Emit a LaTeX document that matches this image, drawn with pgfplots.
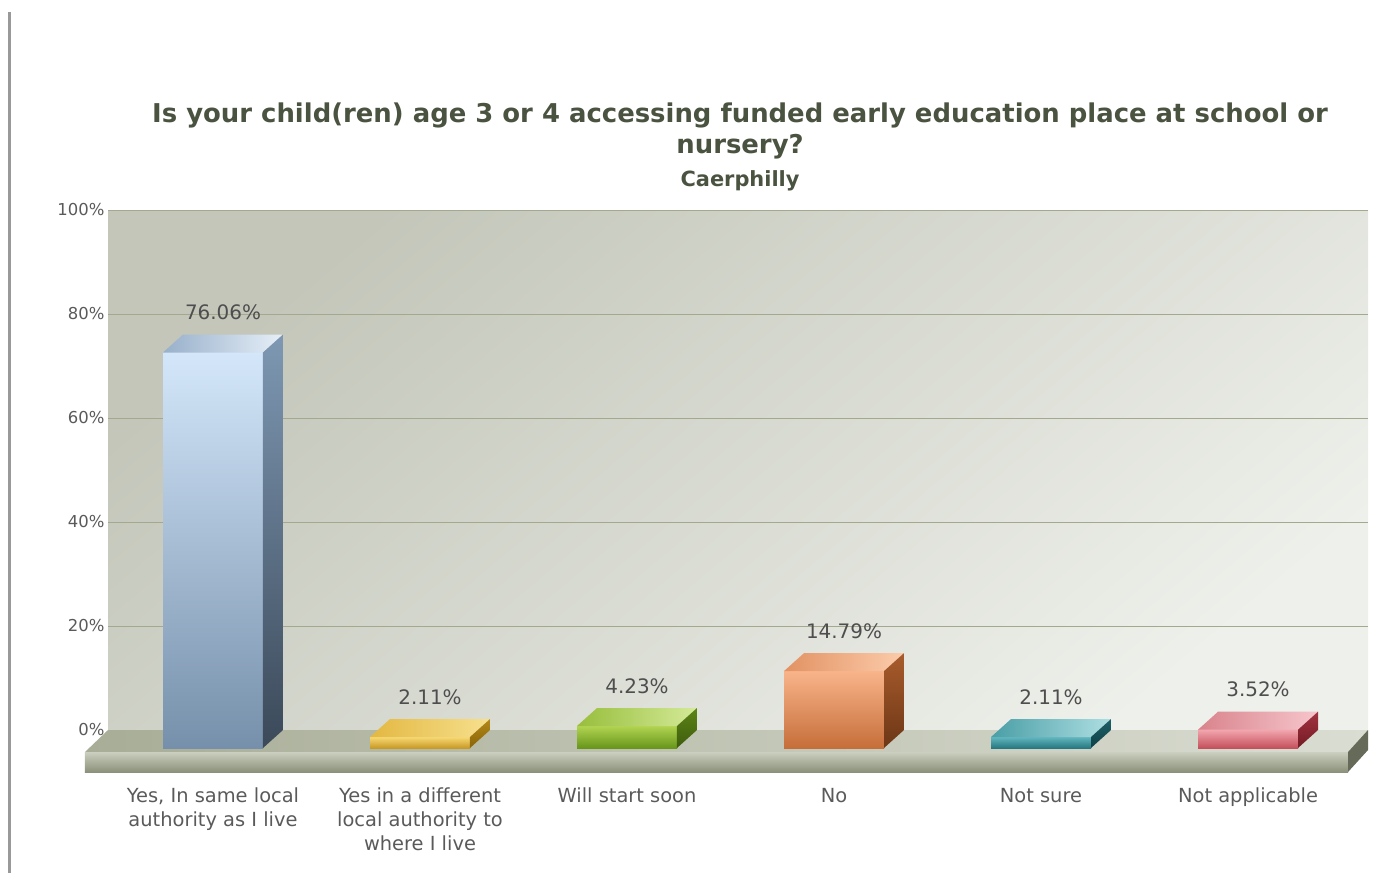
\documentclass[border=0pt]{standalone}
\usepackage{pgfplots}
\pgfplotsset{compat=1.18}
\usepackage{fontspec}
\setmainfont{DejaVu Sans}
\definecolor{wallA}{HTML}{C3C6B9}
\definecolor{wallB}{HTML}{EEF0EB}
\definecolor{gridc}{HTML}{A3A98F}
\definecolor{titlec}{HTML}{4A5240}
\definecolor{tickc}{HTML}{5A5A5A}
\definecolor{labc}{HTML}{5A5A5A}
\definecolor{valc}{HTML}{4E4E4E}
\definecolor{floorTa}{HTML}{A8AD97}
\definecolor{floorTb}{HTML}{DADDD2}
\definecolor{floorFa}{HTML}{CBCFBF}
\definecolor{floorFb}{HTML}{8B917A}
\definecolor{floorS}{HTML}{656B58}
% bar colours
\definecolor{b1a}{HTML}{D4E7FA}\definecolor{b1b}{HTML}{7690AB}\definecolor{b1t}{HTML}{98B0CA}\definecolor{b1u}{HTML}{E6EFF8}\definecolor{b1s}{HTML}{7E98B3}\definecolor{b1r}{HTML}{3B4959}
\definecolor{b2a}{HTML}{F6D873}\definecolor{b2b}{HTML}{C99A26}\definecolor{b2t}{HTML}{E3B842}\definecolor{b2u}{HTML}{F7E08E}\definecolor{b2s}{HTML}{B28818}\definecolor{b2r}{HTML}{8A6508}
\definecolor{b3a}{HTML}{B2D452}\definecolor{b3b}{HTML}{67961A}\definecolor{b3t}{HTML}{98BE3C}\definecolor{b3u}{HTML}{D4EA98}\definecolor{b3s}{HTML}{5C8416}\definecolor{b3r}{HTML}{3E5C0C}
\definecolor{b4a}{HTML}{F9B48A}\definecolor{b4b}{HTML}{C66E3A}\definecolor{b4t}{HTML}{E29262}\definecolor{b4u}{HTML}{FCCCAC}\definecolor{b4s}{HTML}{A95C2C}\definecolor{b4r}{HTML}{6C3616}
\definecolor{b5a}{HTML}{62B6BE}\definecolor{b5b}{HTML}{277880}\definecolor{b5t}{HTML}{4A9EA6}\definecolor{b5u}{HTML}{AEDFE3}\definecolor{b5s}{HTML}{1E6068}\definecolor{b5r}{HTML}{0D4046}
\definecolor{b6a}{HTML}{F2A6AE}\definecolor{b6b}{HTML}{C4505C}\definecolor{b6t}{HTML}{D9838C}\definecolor{b6u}{HTML}{F6C6CC}\definecolor{b6s}{HTML}{A23440}\definecolor{b6r}{HTML}{741A24}
\begin{document}
\begin{tikzpicture}
\begin{axis}[
  scale only axis,
  width=1260bp, height=538bp,
  xmin=-0.5072, xmax=5.5797,
  ymin=0, ymax=103.4615,
  clip=false,
  /pgf/number format/assume math mode=true,
  axis line style={draw=none},
  major tick length=0pt,
  tick style={draw=none},
  axis background/.style={top color=wallA, bottom color=wallB, shading angle=40},
  ymajorgrids,
  grid style={color=gridc, line width=1bp},
  ytick={3.4615,23.4615,43.4615,63.4615,83.4615,103.4615},
  yticklabels={0\%,20\%,40\%,60\%,80\%,100\%},
  yticklabel style={font=\fontsize{16.5}{20}\selectfont, text=tickc},
  xtick={0,1,2,3,4,5},
  xticklabels={{Yes, In same local\\authority as I live},{Yes in a different\\local authority to\\where I live},{Will start soon},{No},{Not sure},{Not applicable}},
  xticklabel style={font=\fontsize{19.5}{24}\selectfont, text=labc, align=center, inner sep=0pt, yshift=-40bp},
  every node near coord/.append style={font=\fontsize{20}{24}\selectfont, text=valc, anchor=center, yshift=40bp, xshift=10bp},
  nodes near coords={\pgfmathprintnumber[fixed,precision=2,zerofill,assume math mode=true]{\pgfplotspointmeta}\%},
]
% invisible frame of the whole picture and the left border line
\path (axis cs:-1.029,143.85) rectangle (axis cs:5.686,-24.04);
\draw[line width=3bp, color=gray!80] (axis cs:-0.9807,141.5) -- (axis cs:-0.9807,-24.04);
% title
\node[font=\fontsize{26}{30}\bfseries\selectfont, text=titlec] at (axis cs:2.546,121.73) {Is your child(ren) age 3 or 4 accessing funded early education place at school or};
\node[font=\fontsize{26}{30}\bfseries\selectfont, text=titlec] at (axis cs:2.546,115.58) {nursery?};
\node[font=\fontsize{21}{25}\bfseries\selectfont, text=titlec] at (axis cs:2.546,109.04) {Caerphilly};
% floor
\addplot[draw=none, left color=floorTa, right color=floorTb, nodes near coords={}] coordinates {(-0.5072,3.4615) (5.5797,3.4615) (5.4831,-0.77) (-0.6184,-0.77)} --cycle;
\addplot[draw=none, top color=floorFa, bottom color=floorFb, nodes near coords={}] coordinates {(-0.6184,-0.77) (5.4831,-0.77) (5.4831,-4.615) (-0.6184,-4.615)} --cycle;
\addplot[draw=none, fill=floorS, nodes near coords={}] coordinates {(5.4831,-0.77) (5.5797,3.4615) (5.5797,-0.385) (5.4831,-4.615)} --cycle;
% bars: front faces (values), top faces, side faces
\addplot[ybar, bar width=100bp, bar shift=0pt, draw=none, top color=b1a, bottom color=b1b] coordinates {(0,76.06)};
\addplot[draw=none, left color=b1t, right color=b1u, nodes near coords={}] coordinates {(-0.2415,76.06) (0.2415,76.06) (0.3381,79.52) (-0.1449,79.52)} --cycle;
\addplot[draw=none, top color=b1s, bottom color=b1r, nodes near coords={}] coordinates {(0.2415,0) (0.3381,3.4615) (0.3381,79.52) (0.2415,76.06)} --cycle;

\addplot[ybar, bar width=100bp, bar shift=0pt, draw=none, top color=b2a, bottom color=b2b] coordinates {(1,2.11)};
\addplot[draw=none, left color=b2t, right color=b2u, nodes near coords={}] coordinates {(0.7585,2.11) (1.2415,2.11) (1.3381,5.57) (0.8551,5.57)} --cycle;
\addplot[draw=none, top color=b2s, bottom color=b2r, nodes near coords={}] coordinates {(1.2415,0) (1.3381,3.4615) (1.3381,5.57) (1.2415,2.11)} --cycle;

\addplot[ybar, bar width=100bp, bar shift=0pt, draw=none, top color=b3a, bottom color=b3b] coordinates {(2,4.23)};
\addplot[draw=none, left color=b3t, right color=b3u, nodes near coords={}] coordinates {(1.7585,4.23) (2.2415,4.23) (2.3381,7.69) (1.8551,7.69)} --cycle;
\addplot[draw=none, top color=b3s, bottom color=b3r, nodes near coords={}] coordinates {(2.2415,0) (2.3381,3.4615) (2.3381,7.69) (2.2415,4.23)} --cycle;

\addplot[ybar, bar width=100bp, bar shift=0pt, draw=none, top color=b4a, bottom color=b4b] coordinates {(3,14.79)};
\addplot[draw=none, left color=b4t, right color=b4u, nodes near coords={}] coordinates {(2.7585,14.79) (3.2415,14.79) (3.3381,18.25) (2.8551,18.25)} --cycle;
\addplot[draw=none, top color=b4s, bottom color=b4r, nodes near coords={}] coordinates {(3.2415,0) (3.3381,3.4615) (3.3381,18.25) (3.2415,14.79)} --cycle;

\addplot[ybar, bar width=100bp, bar shift=0pt, draw=none, top color=b5a, bottom color=b5b] coordinates {(4,2.11)};
\addplot[draw=none, left color=b5t, right color=b5u, nodes near coords={}] coordinates {(3.7585,2.11) (4.2415,2.11) (4.3381,5.57) (3.8551,5.57)} --cycle;
\addplot[draw=none, top color=b5s, bottom color=b5r, nodes near coords={}] coordinates {(4.2415,0) (4.3381,3.4615) (4.3381,5.57) (4.2415,2.11)} --cycle;

\addplot[ybar, bar width=100bp, bar shift=0pt, draw=none, top color=b6a, bottom color=b6b] coordinates {(5,3.52)};
\addplot[draw=none, left color=b6t, right color=b6u, nodes near coords={}] coordinates {(4.7585,3.52) (5.2415,3.52) (5.3381,6.98) (4.8551,6.98)} --cycle;
\addplot[draw=none, top color=b6s, bottom color=b6r, nodes near coords={}] coordinates {(5.2415,0) (5.3381,3.4615) (5.3381,6.98) (5.2415,3.52)} --cycle;
\end{axis}
\end{tikzpicture}
\end{document}
